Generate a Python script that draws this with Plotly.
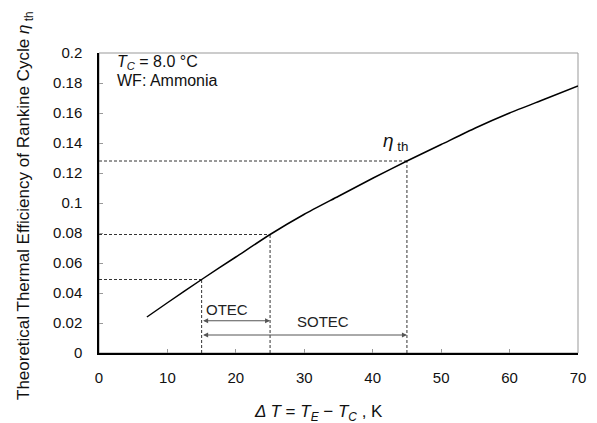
import plotly.graph_objects as go

# Curve data
delta_t = [7, 10, 15, 20, 25, 30, 35, 40, 45, 50, 55, 60, 65, 70]
eta_th = [0.024, 0.0335, 0.049, 0.064, 0.079, 0.0925, 0.1045, 0.1165, 0.128, 0.139, 0.150, 0.160, 0.169, 0.178]

# Reference points with dashed guides
ref_dt = [15, 25, 45]
ref_eta = [0.049, 0.079, 0.128]

# Ranges shown by arrows
otec_range = [15, 25]
otec_y = 0.0215
sotec_range = [15, 45]
sotec_y = 0.012

x_ticks = [0, 10, 20, 30, 40, 50, 60, 70]
y_ticks = [0, 0.02, 0.04, 0.06, 0.08, 0.1, 0.12, 0.14, 0.16, 0.18, 0.2]
y_labels = ["0", "0.02", "0.04", "0.06", "0.08", "0.1", "0.12", "0.14", "0.16", "0.18", "0.2"]

FONT = "Liberation Sans, Arial, sans-serif"
GUIDE = "#333333"

fig = go.Figure()

# dashed guides
for xd, yd in zip(ref_dt, ref_eta):
    fig.add_trace(go.Scatter(x=[0, xd], y=[yd, yd], mode="lines",
                             line=dict(color=GUIDE, width=1, dash="3px,2px"),
                             showlegend=False, hoverinfo="skip"))
    fig.add_trace(go.Scatter(x=[xd, xd], y=[0, yd], mode="lines",
                             line=dict(color=GUIDE, width=1, dash="3px,2px"),
                             showlegend=False, hoverinfo="skip"))

fig.add_trace(go.Scatter(x=delta_t, y=eta_th, mode="lines",
                         line=dict(color="black", width=1.5, shape="spline", smoothing=0.6),
                         showlegend=False))

annotations = [
    dict(x=otec_range[1], y=otec_y, ax=otec_range[0], ay=otec_y, xref="x", yref="y",
         axref="x", ayref="y", showarrow=True, arrowhead=2, arrowside="end+start",
         arrowsize=1, arrowwidth=1, arrowcolor="#555555", text=""),
    dict(x=sotec_range[1], y=sotec_y, ax=sotec_range[0], ay=sotec_y, xref="x", yref="y",
         axref="x", ayref="y", showarrow=True, arrowhead=2, arrowside="end+start",
         arrowsize=1, arrowwidth=1, arrowcolor="#555555", text=""),
    dict(x=15.3, y=0.0287, xref="x", yref="y", text="OTEC", showarrow=False,
         xanchor="left", font=dict(family=FONT, size=15, color="#222")),
    dict(x=32.7, y=0.0209, xref="x", yref="y", text="SOTEC", showarrow=False,
         xanchor="center", font=dict(family=FONT, size=15, color="#222")),
    dict(x=43.3, y=0.141, xref="x", yref="y", text="<i>η</i><sub> th</sub>", showarrow=False,
         xanchor="center", font=dict(family=FONT, size=19, color="#111")),
    dict(x=2.3, y=0.194, xref="x", yref="y", xanchor="left", yanchor="middle",
         text="<i>T</i><sub><i>C</i></sub> = 8.0 °C", showarrow=False,
         font=dict(family=FONT, size=16, color="#111")),
    dict(x=2.3, y=0.182, xref="x", yref="y", xanchor="left", yanchor="middle",
         text="WF: Ammonia", showarrow=False,
         font=dict(family=FONT, size=16, color="#111")),
    # axis titles
    dict(x=0.5, y=0, xref="paper", yref="paper", yshift=-60, xshift=-20,
         text="<i>Δ T</i> = <i>T</i><sub><i>E</i></sub> − <i>T</i><sub><i>C</i></sub> , K",
         showarrow=False, xanchor="center", yanchor="middle",
         font=dict(family=FONT, size=17, color="#111")),
    dict(x=0, y=0.5, xref="paper", yref="paper", xshift=-74, yshift=-3, textangle=-90,
         text="Theoretical Thermal Efficiency of Rankine Cycle <i>η</i><sub> th</sub>",
         showarrow=False, xanchor="center", yanchor="middle",
         font=dict(family=FONT, size=17, color="#111")),
]

fig.update_layout(
    width=597, height=423,
    margin=dict(l=91, r=27, t=45, b=78, autoexpand=False),
    paper_bgcolor="white", plot_bgcolor="white",
    font=dict(family=FONT, size=15, color="#111"),
    annotations=annotations,
    shapes=[dict(type="rect", xref="paper", yref="paper", x0=0, y0=0, x1=1, y1=1,
                 line=dict(color="#999999", width=1), layer="below")],
    xaxis=dict(range=[0, 70], tickvals=x_ticks, ticks="inside", ticklen=4,
               tickcolor="#999", showgrid=False, zeroline=False,
               showline=True, linecolor="black", linewidth=1.5,
               ticklabelstandoff=10, automargin=False,
               tickfont=dict(size=15, family=FONT)),
    yaxis=dict(range=[0, 0.2], tickvals=y_ticks, ticktext=y_labels, ticks="inside",
               ticklen=4, tickcolor="#999", showgrid=False, zeroline=False,
               showline=True, linecolor="black", linewidth=1.5,
               ticklabelstandoff=12, automargin=False,
               tickfont=dict(size=15, family=FONT)),
)

fig.write_html("out.html")
